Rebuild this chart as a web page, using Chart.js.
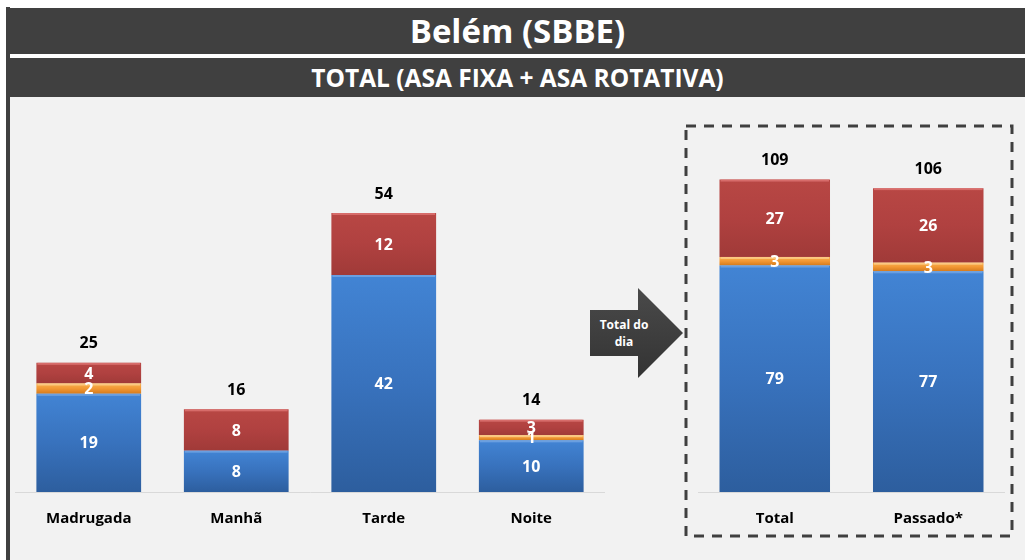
<!DOCTYPE html>
<html>
<head>
<meta charset="utf-8">
<script src="https://cdn.jsdelivr.net/npm/chart.js@4.4.1/dist/chart.umd.min.js"></script>
<style>
  html, body { margin: 0; padding: 0; background: #fff; }
  body { width: 1025px; height: 560px; position: relative; overflow: hidden; font-family: "Open Sans", sans-serif; }
  .stripe { position: absolute; left: 6px; top: 7px; width: 4px; height: 553px; background: #404040; }
  .bar { position: absolute; left: 10px; right: 0; background: #404040; color: #fff; font-weight: bold; text-align: center; font-family: "Open Sans", sans-serif; }
  .title { top: 8px; height: 46px; line-height: 46px; font-size: 33px; }
  .subtitle { top: 58px; height: 39px; line-height: 39px; font-size: 24.5px; }
  .panel { position: absolute; left: 10px; right: 0; top: 97px; bottom: 0; background: #f2f2f2; }
  #left { position: absolute; left: 15px; top: 172px; }
  #right { position: absolute; left: 698px; top: 138px; }
  svg.deco { position: absolute; left: 0; top: 0; pointer-events: none; }
</style>
</head>
<body>
<div class="stripe"></div>
<div class="bar title">Belém (SBBE)</div>
<div class="bar subtitle">TOTAL (ASA FIXA + ASA ROTATIVA)</div>
<div class="panel"></div>
<svg class="deco" width="1025" height="560">
  <defs>
    <linearGradient id="arrowFill" x1="0" y1="0" x2="0" y2="1">
      <stop offset="0" stop-color="#4a4a4a"/>
      <stop offset="1" stop-color="#333333"/>
    </linearGradient>
  </defs>
  <rect x="686" y="126" width="326" height="410" fill="none" stroke="#404040" stroke-width="3" stroke-dasharray="10 8"/>
  <polygon points="590,310 638,310 638,288 683,333 638,378 638,356 590,356" fill="url(#arrowFill)"/>
  <text x="624" y="329" fill="#fff" font-family="Open Sans, sans-serif" font-weight="bold" font-size="12" text-anchor="middle">Total do</text>
  <text x="624" y="346" fill="#fff" font-family="Open Sans, sans-serif" font-weight="bold" font-size="12" text-anchor="middle">dia</text>
</svg>
<canvas id="left" width="590" height="388" style="width:590px;height:388px"></canvas>
<canvas id="right" width="307" height="422" style="width:307px;height:422px"></canvas>
<script>
// períodos do dia
const periods = ['Madrugada', 'Manhã', 'Tarde', 'Noite'];
const periodBlue = [19, 8, 42, 10];
const periodOrange = [2, 0, 0, 1];
const periodRed = [4, 8, 12, 3];

// total do dia x passado
const dayLabels = ['Total', 'Passado*'];
const dayBlue = [79, 77];
const dayOrange = [3, 3];
const dayRed = [27, 26];

const FONT = '"Open Sans", sans-serif';

const palettes = {
  blue:   { top: '#4284d4', mid: '#3872bd', bottom: '#2d5e9e', edge: '#74a6e4' },
  orange: { top: '#f8b350', mid: '#f29733', bottom: '#d37a1c', edge: '#fcd08f' },
  red:    { top: '#b84744', mid: '#b04140', bottom: '#a03a38', edge: '#de7674' },
};

function barGradient(ctx, key) {
  const chart = ctx.chart;
  const area = chart.chartArea;
  if (!area || ctx.type !== 'data') return palettes[key].mid;
  const y = chart.scales.y;
  const ds = chart.data.datasets;
  let base = 0;
  for (let i = 0; i < ctx.datasetIndex; i++) base += ds[i].data[ctx.dataIndex];
  const top = base + ds[ctx.datasetIndex].data[ctx.dataIndex];
  const y0 = y.getPixelForValue(top);
  const y1 = y.getPixelForValue(base);
  if (y1 - y0 < 1) return palettes[key].mid;
  const g = chart.ctx.createLinearGradient(0, y0, 0, y1);
  g.addColorStop(0, palettes[key].top);
  g.addColorStop(0.5, palettes[key].mid);
  g.addColorStop(1, palettes[key].bottom);
  return g;
}

const labelPlugin = {
  id: 'stackLabels',
  afterDatasetsDraw(chart) {
    const c = chart.ctx;
    const ds = chart.data.datasets;
    c.save();
    // bevel highlight at the top of each segment
    ds.forEach((d, di) => {
      const meta = chart.getDatasetMeta(di);
      meta.data.forEach((bar, i) => {
        if (!d.data[i]) return;
        const w = bar.width;
        c.fillStyle = palettes[d.key].edge;
        c.globalAlpha = 0.8;
        c.fillRect(bar.x - w / 2 + 1, bar.y, w - 2, 2);
        c.globalAlpha = 1;
      });
    });
    c.textAlign = 'center';
    c.textBaseline = 'middle';
    c.font = 'bold 16px ' + FONT;
    c.fillStyle = '#ffffff';
    ds.forEach((d, di) => {
      const meta = chart.getDatasetMeta(di);
      meta.data.forEach((bar, i) => {
        const v = d.data[i];
        if (!v) return;
        c.fillText(String(v), bar.x, (bar.y + bar.base) / 2 + 1);
      });
    });
    c.fillStyle = '#000000';
    const last = chart.getDatasetMeta(ds.length - 1);
    chart.data.labels.forEach((lab, i) => {
      let total = 0;
      ds.forEach(d => { total += d.data[i]; });
      const bar = last.data[i];
      c.fillText(String(total), bar.x, bar.y - 19);
    });
    c.restore();
  }
};

function makeChart(id, labels, blue, orange, red, yMax, barPct) {
  const mk = (name, data, key) => ({
    label: name,
    key: key,
    data: data,
    backgroundColor: ctx => barGradient(ctx, key),
    borderWidth: 0,
    barPercentage: barPct,
    categoryPercentage: 1,
  });
  return new Chart(document.getElementById(id), {
    type: 'bar',
    data: {
      labels: labels,
      datasets: [
        mk('Série 1', blue, 'blue'),
        mk('Série 2', orange, 'orange'),
        mk('Série 3', red, 'red'),
      ],
    },
    options: {
      responsive: false,
      animation: false,
      layout: { padding: { top: 10, left: 0, right: 0, bottom: 0 } },
      plugins: { legend: { display: false }, tooltip: { enabled: false } },
      scales: {
        x: {
          stacked: true,
          grid: { display: false, drawTicks: false },
          border: { display: true, color: '#d9d9d9', width: 1 },
          ticks: { color: '#000', font: { family: FONT, size: 15, weight: 'bold' }, padding: 18 },
          afterFit: s => { s.height = 68; },
        },
        y: {
          stacked: true,
          display: false,
          min: 0,
          max: yMax,
        },
      },
    },
    plugins: [labelPlugin],
  });
}

makeChart('left', periods, periodBlue, periodOrange, periodRed, 60, 0.71);
makeChart('right', dayLabels, dayBlue, dayOrange, dayRed, 120, 0.72);
</script>
</body>
</html>
